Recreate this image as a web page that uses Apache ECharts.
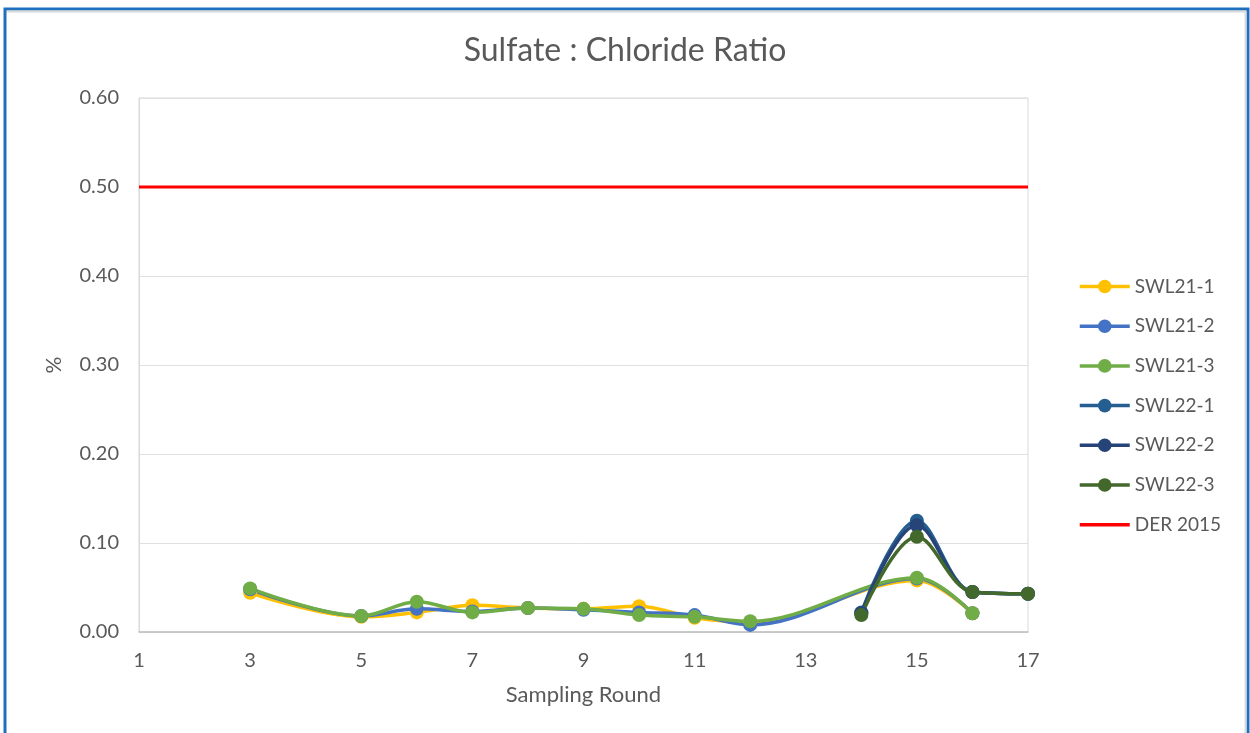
<!DOCTYPE html>
<html lang="en">
<head>
    <meta charset="UTF-8">
    <script src="https://cdn.jsdelivr.net/npm/echarts@6.0.0/dist/echarts.min.js"></script>
    <title>Sulfate : Chloride Ratio</title>
    <style>
        html, body { margin: 0; padding: 0; background: #fff; }
        #tu { width: 1250px; height: 733px; }
    </style>
</head>
<body>
<div id="tu"></div>
<script type="text/javascript">
    // sampling rounds per well group
    var rounds21 = [3, 5, 6, 7, 8, 9, 10, 11, 12, 15, 16];
    var rounds22 = [14, 15, 16, 17];

    var swl21_1 = [0.044, 0.017, 0.022, 0.030, 0.027, 0.026, 0.029, 0.016, 0.011, 0.058, 0.021];
    var swl21_2 = [0.048, 0.018, 0.026, 0.023, 0.027, 0.025, 0.022, 0.019, 0.008, 0.060, 0.021];
    var swl21_3 = [0.049, 0.018, 0.034, 0.022, 0.027, 0.026, 0.019, 0.017, 0.012, 0.061, 0.021];
    var swl22_1 = [0.022, 0.125, 0.045, 0.043];
    var swl22_2 = [0.021, 0.120, 0.045, 0.043];
    var swl22_3 = [0.019, 0.107, 0.045, 0.043];

    // guideline
    var derRounds = [1, 17];
    var derValue = [0.50, 0.50];

    function pairs(xs, ys) {
        return xs.map(function (x, i) { return [x, ys[i]]; });
    }

    function lineSeries(name, color, xs, ys) {
        return {
            name: name,
            type: 'line',
            smooth: 0.35,
            symbol: 'circle',
            symbolSize: 14,
            data: pairs(xs, ys),
            lineStyle: { color: color, width: 3.5 },
            itemStyle: { color: color }
        };
    }

    var txt = '#595959';
    var thisChart = echarts.init(document.getElementById('tu'));
    var option = {
        backgroundColor: '#fff',
        animation: false,
        textStyle: { fontFamily: 'Lato' },
        graphic: [
            { type: 'rect', shape: { x: 5, y: 9, width: 1243, height: 760 },
              style: { fill: 'none', stroke: '#1f6fbf', lineWidth: 3 } },
            { type: 'line', shape: { x1: 7, y1: 11.5, x2: 1246, y2: 11.5 },
              style: { stroke: '#d9d9d9', lineWidth: 2 } },
            { type: 'line', shape: { x1: 1245.5, y1: 11, x2: 1245.5, y2: 733 },
              style: { stroke: '#d9d9d9', lineWidth: 2 } }
        ],
        title: {
            text: 'Sulfate : Chloride Ratio',
            left: 'center',
            top: 30,
            textStyle: { color: txt, fontSize: 32, fontWeight: 'normal', fontFamily: 'Lato' }
        },
        legend: {
            orient: 'vertical',
            left: 1073,
            top: 272,
            itemWidth: 50,
            itemHeight: 17,
            itemGap: 20.7,
            lineStyle: { width: 3.5 },
            textStyle: { color: txt, fontSize: 19, fontFamily: 'Lato' },
            data: ['SWL21-1', 'SWL21-2', 'SWL21-3', 'SWL22-1', 'SWL22-2', 'SWL22-3',
                { name: 'DER 2015', icon: 'path://M0,0H50V3.5H0Z' }]
        },
        grid: { left: 139, top: 98, width: 889, height: 534, show: true, borderColor: '#d9d9d9', borderWidth: 1 },
        xAxis: {
            type: 'value',
            min: 1,
            max: 17,
            interval: 2,
            name: 'Sampling Round',
            nameLocation: 'middle',
            nameGap: 52,
            nameTextStyle: { color: txt, fontSize: 22 },
            axisLine: { lineStyle: { color: '#bfbfbf', width: 1.5 } },
            axisTick: { show: false },
            splitLine: { show: false },
            axisLabel: { color: txt, fontSize: 20, margin: 19 }
        },
        yAxis: {
            type: 'value',
            min: 0,
            max: 0.6,
            interval: 0.1,
            name: '%',
            nameLocation: 'middle',
            nameGap: 74,
            nameTextStyle: { color: txt, fontSize: 21 },
            axisLine: { show: true, lineStyle: { color: '#d9d9d9' } },
            axisTick: { show: false },
            splitLine: { lineStyle: { color: '#e0e0e0', width: 1 } },
            axisLabel: { color: txt, fontSize: 20, margin: 20, formatter: function (v) { return v.toFixed(2); } }
        },
        series: [
            lineSeries('SWL21-1', '#FFC000', rounds21, swl21_1),
            lineSeries('SWL21-2', '#4472C4', rounds21, swl21_2),
            lineSeries('SWL21-3', '#70AD47', rounds21, swl21_3),
            lineSeries('SWL22-1', '#255E91', rounds22, swl22_1),
            lineSeries('SWL22-2', '#264478', rounds22, swl22_2),
            lineSeries('SWL22-3', '#43682B', rounds22, swl22_3),
            {
                name: 'DER 2015',
                type: 'line',
                symbol: 'none',
                data: pairs(derRounds, derValue),
                lineStyle: { color: '#FF0000', width: 3 },
                itemStyle: { color: '#FF0000' }
            }
        ]
    };
    thisChart.setOption(option);
</script>
</body>
</html>
